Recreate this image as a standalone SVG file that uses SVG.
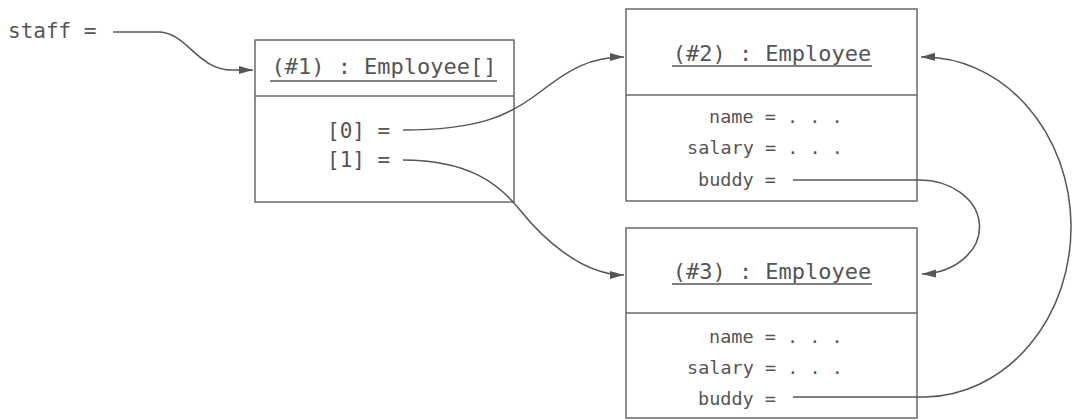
<svg xmlns="http://www.w3.org/2000/svg" width="1073" height="420" viewBox="0 0 1073 420">
<style>
.box{fill:#fff;stroke:#6a6a6a;stroke-width:1.5}
.div{stroke:#6a6a6a;stroke-width:1.5}
.ul{stroke:#555;stroke-width:1.3}
.t{font-family:"DejaVu Sans Mono","Liberation Mono",monospace;fill:#555}
.title{font-size:22px;text-anchor:middle}
.lbl{font-size:21px}
.fld{font-size:18.5px}
.c{fill:none;stroke:#555;stroke-width:1.5}
</style>
<defs>
<marker id="ah" markerUnits="userSpaceOnUse" markerWidth="16" markerHeight="10" refX="14" refY="4" orient="auto">
<path d="M0,0 L14,4 L0,8 z" fill="#555"/>
</marker>
</defs>
<text class="t lbl" x="8" y="38">staff =</text>
<g id="node1">
<rect class="box" x="255" y="40" width="259" height="162"/>
<line class="div" x1="255" y1="96" x2="514" y2="96"/>
<text class="t title" x="384" y="74">(#1) : Employee[]</text>
<line class="ul" x1="270" y1="81" x2="497" y2="81"/>
<text class="t lbl" x="327" y="138">[0] =</text>
<text class="t lbl" x="327" y="167">[1] =</text>
</g>
<g id="node2">
<rect class="box" x="626" y="9" width="291" height="192"/>
<line class="div" x1="626" y1="95" x2="917" y2="95"/>
<text class="t title" x="772" y="61">(#2) : Employee</text>
<line class="ul" x1="672" y1="66" x2="872" y2="66"/>
<text class="t fld" x="709" y="123">name = . . .</text>
<text class="t fld" x="687" y="154">salary = . . .</text>
<text class="t fld" x="698" y="186">buddy =</text>
</g>
<g id="node3">
<rect class="box" x="626" y="228" width="291" height="190"/>
<line class="div" x1="626" y1="313" x2="917" y2="313"/>
<text class="t title" x="772" y="279">(#3) : Employee</text>
<line class="ul" x1="672" y1="284" x2="872" y2="284"/>
<text class="t fld" x="709" y="343">name = . . .</text>
<text class="t fld" x="687" y="374">salary = . . .</text>
<text class="t fld" x="698" y="405">buddy =</text>
</g>
<g id="connectors">
<path class="c" marker-end="url(#ah)" d="M113,32 H158 C187,32 197,70 232,70 H253"/>
<path class="c" marker-end="url(#ah)" d="M403,130 C480,130 510,115 540,92 S590,57 624,57"/>
<path class="c" marker-end="url(#ah)" d="M403,160 C470,160 500,185 520,210 S580,275 624,275"/>
<path class="c" marker-end="url(#ah)" d="M793,180 H917 A60,47 0 0 1 922,274"/>
<path class="c" marker-end="url(#ah)" d="M793,397 H925 A148,170 0 0 0 921,57"/>
</g>
</svg>
